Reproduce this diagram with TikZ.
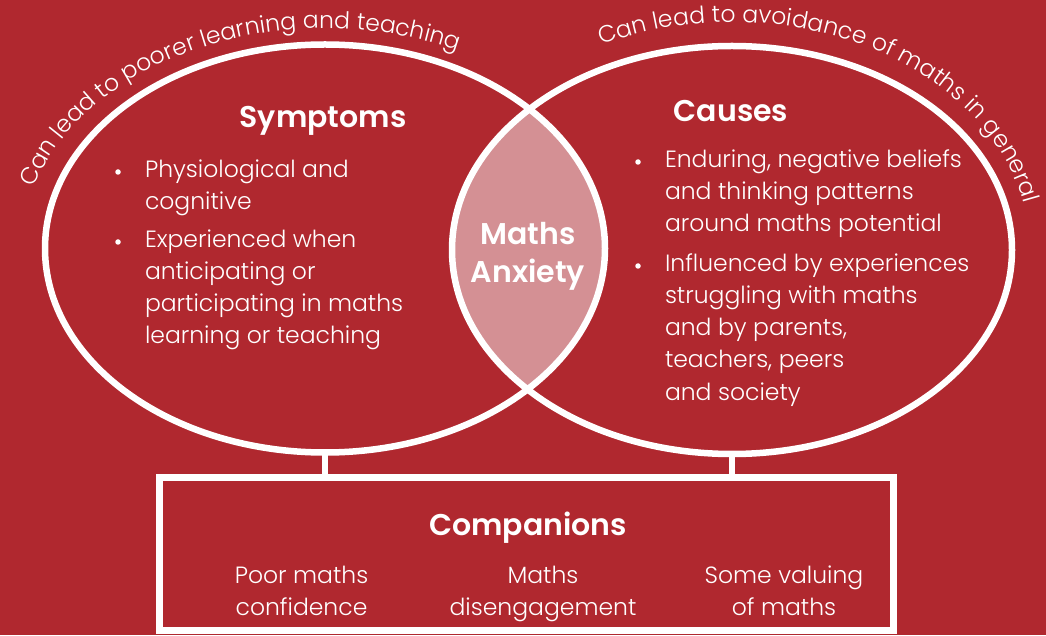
\documentclass[tikz,border=0pt]{standalone}
\usepackage{fontspec}
\setmainfont{Poppins Light}[BoldFont=Poppins SemiBold]
\newfontfamily\headfont{Poppins SemiBold}
\usetikzlibrary{shapes.geometric,decorations.text}
\definecolor{bgred}{HTML}{B0282F}
\definecolor{lenspink}{HTML}{D49094}
\newcommand{\arcfont}{\fontsize{23.5}{23.5}\selectfont}
\begin{document}
\begin{tikzpicture}[x=1pt,y=1pt,
  every node/.style={text=white, inner sep=0pt, outer sep=0pt},
  body/.style={font=\fontsize{23.5}{32}\selectfont, anchor=base west},
  ctrtext/.style={font=\fontsize{23.5}{32}\selectfont, anchor=base},
  bul/.style={circle, fill=white, minimum size=5.5pt},
  head/.style={font=\headfont\fontsize{30}{36}\selectfont, anchor=base},
  ring/.style={ellipse, draw=white, line width=6.5pt, minimum width=560pt, minimum height=408pt},
  link/.style={draw=white, line width=6pt},
  arctext/.style={decorate, decoration={text along path, text align=left, text={|\color{white}\arcfont|#1}}}
]
\fill[bgred] (0,0) rectangle (1046,635);
\useasboundingbox (0,0) rectangle (1046,635);

% lens
\begin{scope}
  \clip (325,386.5) ellipse [x radius=280, y radius=204];
  \fill[lenspink] (732,385) ellipse [x radius=280, y radius=204];
\end{scope}

\node[ring] (sym) at (325,386.5) {};
\node[ring] (cau) at (732,385) {};
\node[rectangle, draw=white, line width=7pt, minimum width=734pt, minimum height=152.5pt] (comp) at (526.5,81.25) {};
\coordinate (symfoot) at (sym.south |- comp.north);
\coordinate (caufoot) at (cau.south |- comp.north);
\path[link] (sym.south) -- (symfoot);
\path[link] (cau.south) -- (caufoot);

% curved texts
\path[arctext={Can lead to poorer learning and teaching}]
  (325,386.5) ++(164:303 and 220) arc[start angle=164, end angle=40, x radius=303, y radius=220];
\path[arctext={Can lead to avoidance of maths in general}]
  (732,385) ++(116:298 and 228) arc[start angle=116, end angle=-10, x radius=298, y radius=228];

% headings
\node[head] (symh) at (323,507) {Symptoms};
\node[head] (cauh) at (731,513) {Causes};
\node[head] (ma1) at (528,390) {Maths};
\node[head] (ma2) at (528,352) {Anxiety};
\node[head] (comph) at (528,100) {Companions};

% symptoms
\node[bul] (sb1) at (118,463) {};
\node[body] (s1) at (145,457) {Physiological and};
\node[body] (s2) at (145,425) {cognitive};
\node[bul] (sb2) at (118,393) {};
\node[body] (s3) at (145,387) {Experienced when};
\node[body] (s4) at (145,355) {anticipating or};
\node[body] (s5) at (145,323) {participating in maths};
\node[body] (s6) at (145,291) {learning or teaching};

% causes
\node[bul] (cb1) at (638,473) {};
\node[body] (c1) at (665,467) {Enduring, negative beliefs};
\node[body] (c2) at (665,435) {and thinking patterns};
\node[body] (c3) at (665,403) {around maths potential};
\node[bul] (cb2) at (638,369) {};
\node[body] (c4) at (665,363) {Influenced by experiences};
\node[body] (c5) at (665,331) {struggling with maths};
\node[body] (c6) at (665,299) {and by parents,};
\node[body] (c7) at (665,267) {teachers, peers};
\node[body] (c8) at (665,235) {and society};

% companions
\node[ctrtext] (p1) at (301.5,52) {Poor maths};
\node[ctrtext] (p2) at (301.5,20) {confidence};
\node[ctrtext] (d1) at (543,52) {Maths};
\node[ctrtext] (d2) at (543,20) {disengagement};
\node[ctrtext] (v1) at (784,52) {Some valuing};
\node[ctrtext] (v2) at (784,20) {of maths};
\end{tikzpicture}
\end{document}
